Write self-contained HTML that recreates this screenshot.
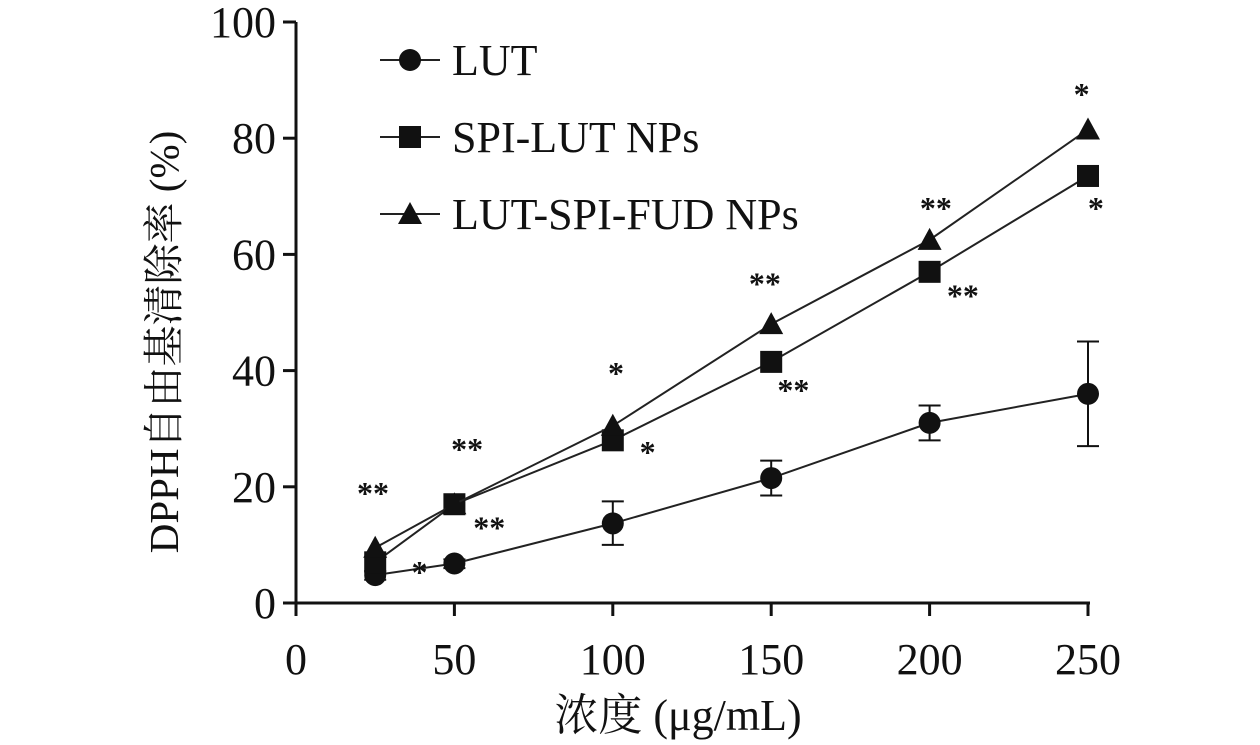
<!DOCTYPE html>
<html><head><meta charset="utf-8"><style>
body{margin:0;background:#fff;}
svg text{font-family:"Liberation Serif","Noto Serif CJK SC",serif;fill:#111;}
</style></head><body>
<svg id="c" width="1260" height="740" viewBox="0 0 1260 740"></svg>
<script>
const conc=[25,50,100,150,200,250];
const lut=[4.8,6.8,13.7,21.5,31,36];
const lutLo=[4,6,10,18.5,28,27];
const lutHi=[5.5,7.5,17.5,24.5,34,45];
const spi=[7,17,28,41.5,57,73.5];
const fud=[9.5,17,30.5,48,62.5,81.5];
const xTicks=[0,50,100,150,200,250];
const yTicks=[0,20,40,60,80,100];
const starX=[24.3,39,54,61,101,111,148,157,202,210.5,248,252.5];
const starY=[20,6.4,27.5,14,40.6,27,56,37.7,69,54,88.6,69];
const starT=["**","*","**","**","*","*","**","**","**","**","*","*"];
const NS="http://www.w3.org/2000/svg";
const svg=document.getElementById('c');
const X=v=>296+v*3.168, Y=v=>603-v*5.81;
function el(t,a,p){const e=document.createElementNS(NS,t);for(const k in a)e.setAttribute(k,a[k]);(p||svg).appendChild(e);return e;}
let e;
e=el('line',{x1:296,y1:Y(0),x2:296,y2:Y(100),stroke:'#111','stroke-width':3});

e=el('line',{x1:296,y1:603,x2:X(250)+2,y2:603,stroke:'#111','stroke-width':3});

yTicks.forEach(v=>{el('line',{x1:283,x2:296,y1:Y(v),y2:Y(v),stroke:'#111','stroke-width':3});
 e=el('text',{x:276,y:Y(v)+15,'text-anchor':'end','font-size':44});e.textContent=v;
 });
xTicks.forEach(v=>{el('line',{x1:X(v),x2:X(v),y1:603,y2:616,stroke:'#111','stroke-width':3});
 e=el('text',{x:X(v),y:674,'text-anchor':'middle','font-size':44});e.textContent=v;
 });
e=el('text',{x:678,y:730,'text-anchor':'middle','font-size':44});e.textContent='浓度 (μg/mL)';

e=el('text',{x:0,y:0,'text-anchor':'middle','font-size':41,transform:'translate(178,342) rotate(-90)'});e.textContent='DPPH自由基清除率 (%)';

function marker(type,cx,cy,g){
 if(type==0)return el('circle',{cx,cy,r:11,fill:'#111'},g);
 if(type==1)return el('rect',{x:cx-11,y:cy-11,width:22,height:22,fill:'#111'},g);
 return el('polygon',{points:`${cx},${cy-12} ${cx+12},${cy+10} ${cx-12},${cy+10}`,fill:'#111'},g);}
function series(vals,type,name){
 const g=el('g',{});
 el('polyline',{points:vals.map((v,i)=>X(conc[i])+','+Y(v)).join(' '),fill:'none',stroke:'#222','stroke-width':2},g);
 vals.forEach((v,i)=>{const m=marker(type,X(conc[i]),Y(v),g);});}
const eg=el('g',{});
conc.forEach((c,i)=>{const x=X(c);el('line',{x1:x,x2:x,y1:Y(lutLo[i]),y2:Y(lutHi[i]),stroke:'#111','stroke-width':2},eg);
 [lutLo[i],lutHi[i]].forEach(v=>el('line',{x1:x-11,x2:x+11,y1:Y(v),y2:Y(v),stroke:'#111','stroke-width':2},eg));});
series(lut,0,'lut-series');series(spi,1,'spi-lut-series');series(fud,2,'lut-spi-fud-series');
starX.forEach((c,i)=>{e=el('text',{x:X(c),y:Y(starY[i])+17,'text-anchor':'middle','font-size':32,'font-weight':'bold'});e.textContent=starT[i];
 });
const leg=[['LUT',0,60],['SPI-LUT NPs',1,137],['LUT-SPI-FUD NPs',2,214]];
leg.forEach(([t,ty,y])=>{const g=el('g',{});
 el('line',{x1:380,x2:440,y1:y,y2:y,stroke:'#222','stroke-width':2},g);marker(ty,410,y,g);
 const tx=el('text',{x:452,y:y+15,'font-size':44},g);tx.textContent=t;});
</script>
</body></html>
